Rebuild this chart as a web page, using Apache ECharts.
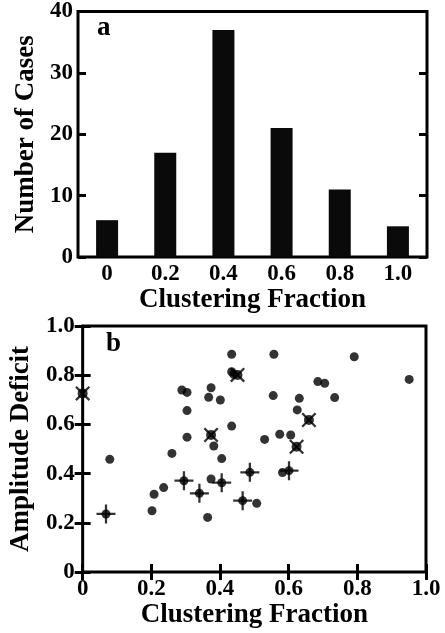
<!DOCTYPE html>
<html>
<head>
<meta charset="utf-8">
<script src="https://cdn.jsdelivr.net/npm/echarts@6/dist/echarts.min.js"></script>
<style>
  html, body { margin: 0; padding: 0; background: #fff; }
  #main { width: 445px; height: 633px; }
</style>
</head>
<body>
<div id="main"></div>
<script>
// panel a: histogram
var binLabels = ['0', '0.2', '0.4', '0.6', '0.8', '1.0'];
var caseCounts = [6, 17, 37, 21, 11, 5];

// panel b: scatter, [clustering fraction, amplitude deficit]
var dotPts = [
  [0.079, 0.458], [0.260, 0.482], [0.289, 0.740], [0.304, 0.730], [0.304, 0.656],
  [0.304, 0.548], [0.374, 0.749], [0.367, 0.710], [0.401, 0.699], [0.382, 0.512],
  [0.405, 0.461], [0.434, 0.885], [0.434, 0.814], [0.440, 0.804], [0.434, 0.593],
  [0.557, 0.885], [0.791, 0.875], [0.951, 0.783], [0.685, 0.774], [0.705, 0.767],
  [0.555, 0.717], [0.631, 0.706], [0.734, 0.709], [0.625, 0.659], [0.530, 0.539],
  [0.574, 0.560], [0.606, 0.557], [0.582, 0.404], [0.202, 0.249], [0.208, 0.316],
  [0.236, 0.343], [0.364, 0.222], [0.374, 0.378], [0.507, 0.279]
];
var crossPts = [
  [0.000, 0.726], [0.374, 0.557], [0.451, 0.801], [0.659, 0.618], [0.623, 0.509]
];
var plusPts = [
  [0.068, 0.236], [0.295, 0.371], [0.340, 0.320], [0.405, 0.363],
  [0.466, 0.290], [0.487, 0.405], [0.601, 0.412]
];

var FONT = 'Liberation Serif';
// plus-shaped arms, 20x20 box
var PLUS = 'path://M8.8,0 h2.4 v8.8 h8.8 v2.4 h-8.8 v8.8 h-2.4 v-8.8 h-8.8 v-2.4 h8.8 z';

function fmt(v) { return v === 0 ? '0' : v.toFixed(1); }

var tickStyle = { show: true, inside: true, length: 8, lineStyle: { color: '#000', width: 3 } };
var labelStyle = { color: '#000', fontFamily: FONT, fontWeight: 'bold', fontSize: 23 };
var nameStyle = { color: '#000', fontFamily: FONT, fontWeight: 'bold', fontSize: 27 };

function sideAxis(gridIndex, position, extra) {
  return Object.assign({
    type: 'value', gridIndex: gridIndex, position: position,
    axisLine: { show: false }, axisTick: tickStyle, axisLabel: { show: false },
    splitLine: { show: false }
  }, extra);
}

var chart = echarts.init(document.getElementById('main'));
chart.setOption({
  animation: false,
  backgroundColor: '#fff',
  grid: [
    { left: 78, right: 18, top: 10, bottom: 376, show: true, borderColor: '#000', borderWidth: 3 },
    { left: 81, right: 19, top: 326, bottom: 61, show: true, borderColor: '#000', borderWidth: 3 }
  ],
  xAxis: [
    {
      type: 'category', gridIndex: 0, data: binLabels,
      axisLine: { show: false }, axisTick: { show: false },
      axisLabel: Object.assign({ margin: 6 }, labelStyle),
      name: 'Clustering Fraction', nameLocation: 'middle', nameGap: 26, nameTextStyle: nameStyle
    },
    sideAxis(1, 'bottom', {
      min: 0, max: 1, interval: 0.2,
      axisLabel: Object.assign({ show: true, margin: 6, formatter: fmt }, labelStyle),
      name: 'Clustering Fraction', nameLocation: 'middle', nameGap: 26, nameTextStyle: nameStyle
    }),
    sideAxis(1, 'top', { min: 0, max: 1, interval: 0.2 })
  ],
  yAxis: [
    sideAxis(0, 'left', {
      min: 0, max: 40, interval: 10,
      axisLabel: Object.assign({ show: true, margin: 5 }, labelStyle),
      name: 'Number of Cases', nameLocation: 'middle', nameGap: 38, nameTextStyle: nameStyle
    }),
    sideAxis(0, 'right', { min: 0, max: 40, interval: 10 }),
    sideAxis(1, 'left', {
      min: 0, max: 1, interval: 0.2,
      axisLabel: Object.assign({ show: true, margin: 8, formatter: fmt }, labelStyle),
      name: 'Amplitude Deficit', nameLocation: 'middle', nameGap: 40, nameTextStyle: nameStyle
    }),
    sideAxis(1, 'right', { min: 0, max: 1, interval: 0.2 })
  ],
  graphic: [
    { type: 'text', left: 97, top: 15, style: { text: 'a', font: 'bold 27px "Liberation Serif"', fill: '#000' } },
    { type: 'text', left: 106, top: 331, style: { text: 'b', font: 'bold 27px "Liberation Serif"', fill: '#000' } }
  ],
  series: [
    {
      type: 'bar', xAxisIndex: 0, yAxisIndex: 0, data: caseCounts,
      barWidth: 22, itemStyle: { color: '#0a0a0a' }
    },
    {
      type: 'scatter', xAxisIndex: 1, yAxisIndex: 2, data: dotPts, clip: false,
      symbol: 'circle', symbolSize: 9, itemStyle: { color: '#000' }
    },
    {
      type: 'scatter', xAxisIndex: 1, yAxisIndex: 2, data: crossPts, clip: false,
      symbol: PLUS, symbolSize: 19, symbolRotate: 45, itemStyle: { color: '#000' }
    },
    {
      type: 'scatter', xAxisIndex: 1, yAxisIndex: 2, data: crossPts, clip: false,
      symbol: 'circle', symbolSize: 10, itemStyle: { color: '#000' }
    },
    {
      type: 'scatter', xAxisIndex: 1, yAxisIndex: 2, data: plusPts, clip: false,
      symbol: PLUS, symbolSize: 19, itemStyle: { color: '#000' }
    },
    {
      type: 'scatter', xAxisIndex: 1, yAxisIndex: 2, data: plusPts, clip: false,
      symbol: 'circle', symbolSize: 9, itemStyle: { color: '#000' }
    }
  ]
});
</script>
</body>
</html>
